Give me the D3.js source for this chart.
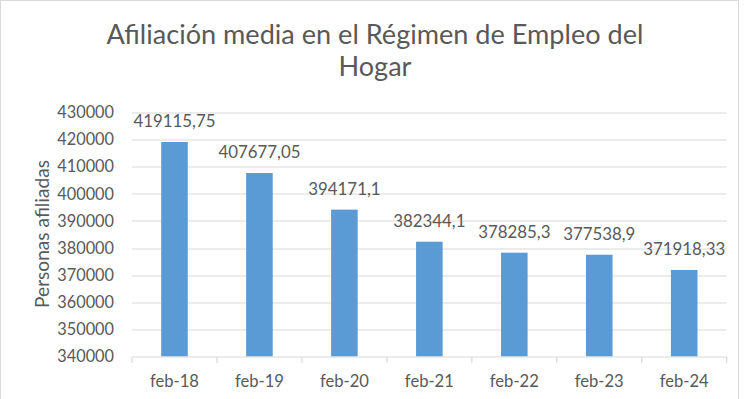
<!DOCTYPE html>
<html>
<head>
<meta charset="utf-8">
<script src="https://cdn.jsdelivr.net/npm/d3@7"></script>
<style>
  html, body { margin: 0; padding: 0; background: #fff; }
  svg text { font-family: Lato, "Open Sans", sans-serif; fill: #595959; }
</style>
</head>
<body>
<div id="chart"></div>
<script>
// data
const periods = ["feb-18", "feb-19", "feb-20", "feb-21", "feb-22", "feb-23", "feb-24"];
const afiliados = [419115.75, 407677.05, 394171.1, 382344.1, 378285.3, 377538.9, 371918.33];
const yTicks = [340000, 350000, 360000, 370000, 380000, 390000, 400000, 410000, 420000, 430000];
const titleLines = ["Afiliación media en el Régimen de Empleo del", "Hogar"];
const yTitle = "Personas afiliadas";

const width = 750, height = 399;
const margin = { top: 112.5, right: 23.3, bottom: 42.5, left: 132 };
const innerW = width - margin.left - margin.right,
      innerH = height - margin.top - margin.bottom;

const svg = d3.select("#chart").append("svg")
  .attr("width", width)
  .attr("height", height);

// pick a font size so a sample string is about as wide as in the original
function fitSize(sample, target) {
  const t = svg.append("text").style("font-size", "20px").text(sample);
  const w = t.node().getComputedTextLength();
  t.remove();
  return (20 * target / w).toFixed(2) + "px";
}
const tickFont = fitSize("430000", 56.7);
const labelFont = fitSize("419115,75", 82);
const catFont = fitSize("feb-18", 49);
const titleFont = fitSize(titleLines[0], 537);
const yTitleFont = fitSize(yTitle, 148);

// outer frame
svg.append("rect")
  .attr("x", 0.5).attr("y", 0.5)
  .attr("width", 738).attr("height", 410)
  .attr("fill", "none")
  .attr("stroke", "#d9d9d9");

// title
svg.append("g").selectAll("text")
  .data(titleLines)
  .enter().append("text")
    .attr("x", 375)
    .attr("y", (d, i) => 43.5 + i * 32)
    .attr("text-anchor", "middle")
    .style("font-size", titleFont)
    .text(d => d);

const g = svg.append("g")
  .attr("transform", `translate(${margin.left},${margin.top})`);

const y = d3.scaleLinear()
  .domain([340000, 430000])
  .range([innerH, 0]);

const pad = 0.687;
const x = d3.scaleBand()
  .domain(periods)
  .range([0, innerW])
  .paddingInner(pad)
  .paddingOuter(pad / 2);

// gridlines
g.append("g").selectAll("line")
  .data(yTicks.slice(1))
  .enter().append("line")
    .attr("x1", 0).attr("x2", innerW)
    .attr("y1", d => Math.round(y(d)) + 0.5)
    .attr("y2", d => Math.round(y(d)) + 0.5)
    .attr("stroke", "#d9d9d9")
    .attr("stroke-width", 1.2);

// y axis labels
const yAxis = g.append("g")
  .call(d3.axisLeft(y).tickValues(yTicks).tickSize(0).tickPadding(18).tickFormat(d3.format("d")));
yAxis.select(".domain").remove();
yAxis.selectAll("text")
  .style("font-size", tickFont)
  .attr("fill", "#595959");

// bars
g.append("g").selectAll("rect")
  .data(afiliados)
  .enter().append("rect")
    .attr("x", (d, i) => x(periods[i]))
    .attr("y", d => y(d))
    .attr("width", x.bandwidth())
    .attr("height", d => innerH - y(d))
    .attr("fill", "#5b9bd5");

// value labels
g.append("g").selectAll("text")
  .data(afiliados)
  .enter().append("text")
    .attr("x", (d, i) => x(periods[i]) + x.bandwidth() / 2)
    .attr("y", d => y(d) - 15)
    .attr("text-anchor", "middle")
    .style("font-size", labelFont)
    .text(d => String(d).replace(".", ","));

// x axis line + ticks at category boundaries
const step = x.step();
const bounds = periods.map(p => x(p) - step * x.paddingOuter()).concat([innerW]);
const xg = g.append("g").attr("transform", `translate(0,${Math.round(innerH) + 0.5})`);
xg.append("line")
  .attr("x1", 0).attr("x2", innerW)
  .attr("stroke", "#d9d9d9").attr("stroke-width", 1.2);
xg.selectAll("line.tick")
  .data(bounds)
  .enter().append("line")
    .attr("class", "tick")
    .attr("x1", d => d).attr("x2", d => d)
    .attr("y1", 0).attr("y2", 6)
    .attr("stroke", "#d9d9d9").attr("stroke-width", 1.2);
xg.selectAll("text")
  .data(periods)
  .enter().append("text")
    .attr("x", d => x(d) + x.bandwidth() / 2)
    .attr("y", 29.5)
    .attr("text-anchor", "middle")
    .style("font-size", catFont)
    .text(d => d);

// y axis title
svg.append("text")
  .attr("transform", `translate(49,${margin.top + innerH / 2 - 0.5}) rotate(-90)`)
  .attr("text-anchor", "middle")
  .style("font-size", yTitleFont)
  .text(yTitle);
</script>
</body>
</html>
